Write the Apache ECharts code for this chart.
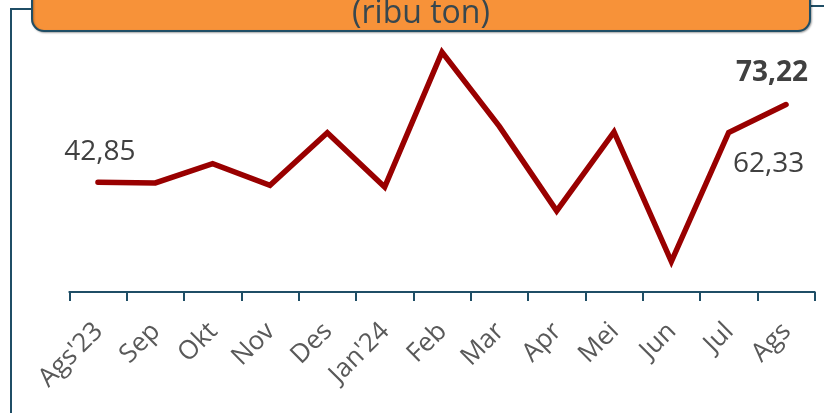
<!DOCTYPE html>
<html>
<head>
<meta charset="utf-8">
<script src="https://cdn.jsdelivr.net/npm/echarts@6/dist/echarts.min.js"></script>
<style>
html,body{margin:0;padding:0;background:#fff;}
#c{width:824px;height:413px;}
</style>
</head>
<body>
<div id="c"></div>
<script>
const categories = ["Ags'23","Sep","Okt","Nov","Des","Jan'24","Feb","Mar","Apr","Mei","Jun","Jul","Ags"];
const values = [42.85, 42.6, 50.1, 41.7, 62.2, 41.0, 93.7, 64.7, 31.7, 62.5, 11.9, 62.33, 73.22];
const titleText = "(ribu ton)";
const labelFirst = "42,85";
const labelJul = "62,33";
const labelLast = "73,22";

const chart = echarts.init(document.getElementById('c'), null, {renderer:'canvas'});

const seriesData = values.map((v, i) => {
  const d = { value: v };
  if (i === 0) {
    d.label = { show: true, formatter: labelFirst, position: 'inside', offset: [2, -30],
      fontFamily: 'Open Sans', fontSize: 28, color: '#404040' };
  } else if (i === 11) {
    d.label = { show: true, formatter: labelJul, position: 'inside', offset: [40, 32],
      fontFamily: 'Open Sans', fontSize: 28, color: '#404040' };
  } else if (i === values.length - 1) {
    d.label = { show: true, formatter: labelLast, position: 'inside', offset: [-14, -32],
      fontFamily: 'Open Sans', fontSize: 28, fontWeight: 'bold', color: '#404040' };
  }
  return d;
});

chart.setOption({
  animation: false,
  backgroundColor: '#ffffff',
  grid: { left: 69.3, right: 9.3, top: 36, bottom: 121, containLabel: false },
  xAxis: {
    type: 'category',
    data: categories,
    boundaryGap: true,
    axisLine: { show: true, lineStyle: { color: '#1f4e66', width: 2 } },
    axisTick: { show: true, length: 9, lineStyle: { color: '#1f4e66', width: 2 } },
    axisLabel: { rotate: 45, margin: 36, interval: 0, fontFamily: 'Open Sans', fontSize: 26,
      color: '#595959', padding: [0, -1, 0, 0] },
    splitLine: { show: false }
  },
  yAxis: {
    type: 'value', min: 0, max: 100, show: false, splitLine: { show: false }
  },
  series: [{
    type: 'line',
    data: seriesData,
    symbol: 'circle',
    symbolSize: 2,
    showSymbol: true,
    itemStyle: { color: 'rgba(0,0,0,0)', borderWidth: 0 },
    lineStyle: { color: '#990000', width: 5.5, join: 'miter', cap: 'round' },
    label: { show: false }
  }],
  graphic: [
    { type: 'polyline', shape: { points: [[32, 9], [11, 9], [11, 413]] },
      style: { stroke: '#1f4e66', lineWidth: 2, fill: null }, z: 1 },
    { type: 'line', shape: { x1: 810, y1: 6, x2: 824, y2: 6 },
      style: { stroke: '#1f4e66', lineWidth: 2 }, z: 1 },
    { type: 'rect', shape: { x: 32, y: -25, width: 778, height: 56, r: 12 },
      style: { fill: '#F79239', stroke: '#1f4e66', lineWidth: 2,
        shadowBlur: 2, shadowOffsetX: 1, shadowOffsetY: 1, shadowColor: 'rgba(0,0,0,0.3)' }, z: 2 },
    { type: 'text', x: 421, y: 14, z: 3,
      style: { text: titleText, fontFamily: 'Open Sans', fontSize: 32, fill: '#37474f',
        textAlign: 'center', textVerticalAlign: 'middle' } }
  ]
});
</script>
</body>
</html>
